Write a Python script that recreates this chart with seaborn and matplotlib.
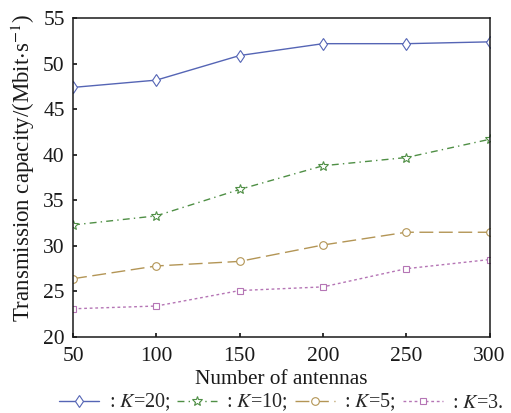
import matplotlib
matplotlib.use("Agg")
import matplotlib.pyplot as plt
import seaborn as sns
import pandas as pd

antennas = [50, 100, 150, 200, 250, 300]
k20 = [47.4, 48.2, 50.9, 52.2, 52.2, 52.4]
k10 = [32.3, 33.3, 36.2, 38.8, 39.7, 41.7]
k5 = [26.4, 27.8, 28.3, 30.1, 31.5, 31.5]
k3 = [23.1, 23.4, 25.1, 25.5, 27.5, 28.5]
labels = [": $K$=20;", ": $K$=10;", ": $K$=5;", ": $K$=3."]

sns.set_theme(style="ticks")
plt.rcParams['font.family'] = ['Liberation Serif', 'DejaVu Serif']
plt.rcParams['mathtext.fontset'] = 'stix'

fig = plt.figure(figsize=(5.11, 4.13), dpi=100)
ax = fig.add_axes([0.143, 0.184, 0.815, 0.772])

series = [k20, k10, k5, k3]
colors = ["#5565b5", "#4f8f45", "#b39555", "#b575b5"]
markers = ["d", "*", "o", "s"]
styles = ["-", (0, (5, 3, 1, 3)), (0, (10, 4)), (0, (2, 2))]
msizes = [6.5, 7, 5.5, 5]

for vals, c, m, ls, ms, lab in zip(series, colors, markers, styles, msizes, labels):
    df = pd.DataFrame({"x": antennas, "y": vals})
    sns.lineplot(data=df, x="x", y="y", ax=ax, color=c, marker=m, markersize=ms,
                 markerfacecolor="white", markeredgecolor=c, markeredgewidth=0.8,
                 linewidth=1.0, linestyle=ls, label=lab)

ax.set_xlim(50, 300)
ax.set_ylim(20, 55)
ax.set_xticks([50, 100, 150, 200, 250, 300])
ax.set_yticks([20, 25, 30, 35, 40, 45, 50, 55])
ax.tick_params(direction="in", length=3, labelsize=15.5, colors="#1a1a1a")
ax.tick_params(axis="x", pad=7)
ax.tick_params(axis="y", pad=6)
for s in ax.spines.values():
    s.set_visible(True)
    s.set_linewidth(1.1)
    s.set_color("#1a1a1a")
ax.set_xlabel("Number of antennas", fontsize=15.3, labelpad=3, color="#1a1a1a")
ax.set_ylabel("Transmission capacity/(Mbit$\\cdot$s$^{-1}$)", fontsize=16.5, color="#1a1a1a")
ax.yaxis.set_label_coords(-0.087, 0.53)

leg = ax.legend(loc="upper center", bbox_to_anchor=(0.5, -0.172), ncol=4, frameon=False,
                fontsize=14.5, handlelength=2.0, handletextpad=0.45, columnspacing=0.35,
                borderaxespad=0, borderpad=0)

fig.savefig("out.png", dpi=100)
